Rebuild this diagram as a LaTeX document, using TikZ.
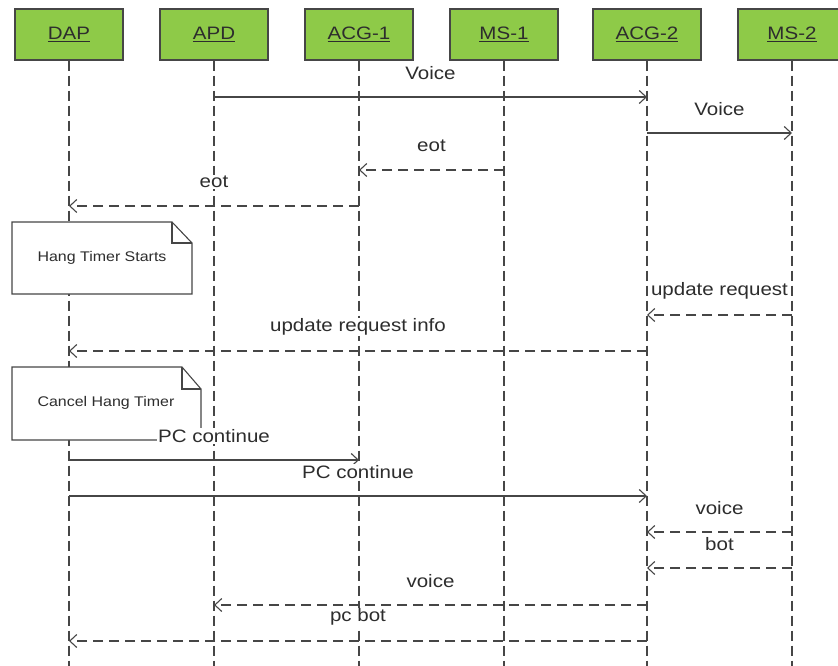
\documentclass[tikz,border=0pt]{standalone}
\usepackage{fontspec}
\setmainfont{Liberation Sans}[FakeStretch=1.14]
\usetikzlibrary{arrows.meta,calc}
\definecolor{headgreen}{RGB}{142,202,72}
\definecolor{inkgray}{RGB}{70,70,70}
\definecolor{textgray}{RGB}{45,45,45}
\tikzset{
  x=1pt, y=-1pt,
  head/.style={draw=inkgray, line width=1.4pt, fill=headgreen,
    minimum width=108pt, minimum height=51pt, inner sep=0pt,
    text=textgray, font=\fontsize{18}{20}\selectfont},
  life/.style={draw=inkgray, line width=1.1pt, dash pattern=on 10pt off 5pt},
  sync/.style={draw=inkgray, line width=1.1pt,
    -{Straight Barb[length=7pt,width=13pt]}},
  reply/.style={sync, dash pattern=on 10pt off 6pt},
  msglabel/.style={fill=white, inner sep=1pt, text=textgray,
    font=\fontsize{18}{20}\selectfont},
  notebox/.style={draw=inkgray, line width=1.1pt, fill=white},
  notetext/.style={text=textgray, font=\fontsize{14}{16}\selectfont}
}
\begin{document}
\begin{tikzpicture}
\useasboundingbox (0,0) rectangle (838,666);

% participants and their lifelines
\foreach \n/\x/\t in {dap/69/DAP, apd/214/APD, acg1/359/ACG-1,
                      ms1/504/MS-1, acg2/647/ACG-2, ms2/792/MS-2} {
  \node[head] (\n) at (\x,34.5) {\underline{\t}};
  \coordinate (\n-end) at (\x,666);
  \draw[life] (\n.south) -- (\n-end);
}

% notes with folded corner
\draw[notebox] (12,222) -- (172,222) -- (192,243) -- (192,294)
  -- (12,294) -- cycle;
\draw[inkgray, line width=1.1pt] (172,222) -- (172,243) -- (192,243);
\node[notetext] (hang) at (102,258) {Hang Timer Starts};

\draw[notebox] (12,367) -- (182,367) -- (201,389) -- (201,440)
  -- (12,440) -- cycle;
\draw[inkgray, line width=1.1pt] (182,367) -- (182,389) -- (201,389);
\node[notetext] (cancel) at (106,403) {Cancel Hang Timer};

% messages: from / to / y / label / style
\foreach \i/\a/\b/\y/\t/\s in {
    1/apd/acg2/97/Voice/sync,
    2/acg2/ms2/133/Voice/sync,
    3/ms1/acg1/170/eot/reply,
    4/acg1/dap/206/eot/reply,
    5/ms2/acg2/315/update request/reply,
    6/acg2/dap/351/update request info/reply,
    7/dap/acg1/460/PC continue/sync,
    8/dap/acg2/496/PC continue/sync,
    9/ms2/acg2/532/voice/reply,
    10/ms2/acg2/568/bot/reply,
    11/acg2/apd/605/voice/reply,
    12/acg2/dap/641/pc bot/reply} {
  \coordinate (m\i-from) at (\a |- 0,\y);
  \coordinate (m\i-to) at (\b |- 0,\y);
  \draw[\s] (m\i-from) -- (m\i-to);
  \node[msglabel] (m\i-label) at ($(m\i-from)!0.5!(m\i-to) + (0,-24)$) {\t};
}
\end{tikzpicture}
\end{document}
